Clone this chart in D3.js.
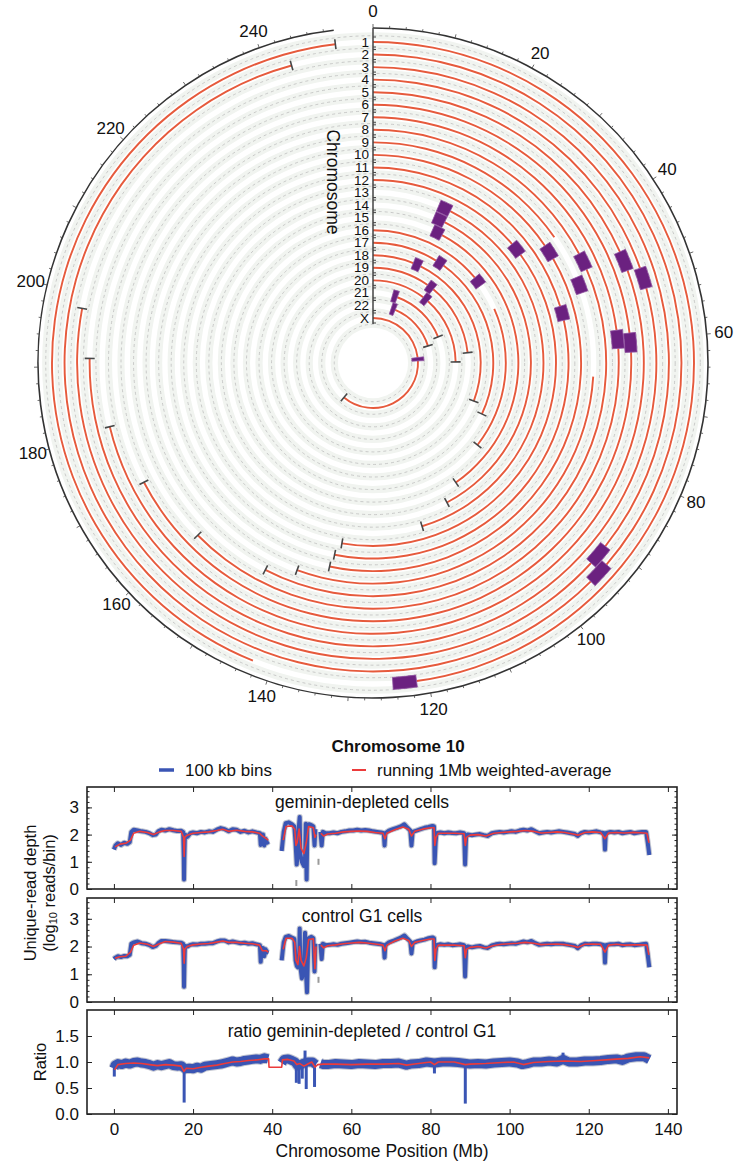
<!DOCTYPE html>
<html>
<head>
<meta charset="utf-8">
<script src="https://cdn.jsdelivr.net/npm/d3@7"></script>
<style>
body { margin: 0; background: #fff; }
svg { display: block; font-family: "Liberation Sans", Arial, sans-serif; }
</style>
</head>
<body>
<svg id="chart" width="736" height="1161"></svg>
<script>
// ---------- circular plot data (Mb) ----------
const chromNames = ["1","2","3","4","5","6","7","8","9","10","11","12","13","14","15","16","17","18","19","20","21","22","X"];
const chromLengths = [249.25, 243.2, 198.0, 191.15, 180.9, 171.1, 159.1, 146.4, 141.2, 135.5, 135.0, 133.9, 115.2, 107.3, 102.5, 90.4, 81.2, 78.1, 59.1, 63.0, 48.1, 51.3, 155.3];
const centromeres = [[121.5,124.5],[92.3,95.3],[90.5,93.5],[49.7,52.7],[46.4,49.4],[58.8,61.8],[58.1,61.1],[43.8,46.8],[47.4,50.4],[39.3,42.3],[51.6,54.6],[34.9,37.9],[16.0,19.0],[16.0,19.0],[17.0,20.0],[35.3,38.3],[22.3,25.3],[15.5,18.5],[24.7,27.7],[26.4,29.4],[11.3,14.3],[13.0,16.0],[58.6,61.6]];
const coveredSegs = [
    [[0,121.5],[142.5,249.25]],
    [[0,92.3],[95.3,243.2]],
    [[0,90.5],[93.5,198.0]],
    [[0,49.7],[52.7,191.15]],
    [[0,46.4],[49.4,180.9]],
    [[0,58.8],[61.8,171.1]],
    [[0,58.1],[61.1,159.1]],
    [[0,43.8],[46.8,146.4]],
    [[0,39.0],[66.0,141.2]],
    [[0,39.3],[42.3,135.5]],
    [[0,51.6],[54.6,135.0]],
    [[0,34.9],[37.9,133.9]],
    [[19.0,115.2]],
    [[19.0,107.3]],
    [[20.0,102.5]],
    [[0,35.3],[46.5,90.4]],
    [[0,22.3],[25.3,81.2]],
    [[0,15.5],[18.5,78.1]],
    [[0,24.7],[27.7,59.1]],
    [[0,26.4],[29.4,63.0]],
    [[14.3,48.1]],
    [[16.0,51.3]],
    [[0,58.6],[61.6,155.3]]
];
const circleTicks = [0,20,40,60,80,100,120,140,160,180,200,220,240];

// ---------- chromosome 10 profiles: [position Mb, value] ----------
const xTicks = [0,20,40,60,80,100,120,140];
const depthTicks = [0,1,2,3];
const ratioTicks = [0,0.5,1.0,1.5];

const depletedBins = [[0,1.45],[0.4,1.6],[1,1.68],[1.8,1.62],[2.6,1.7],[3.4,1.66],[4,1.72],[4.4,2.1],[5,2.18],[6,2.15],[7,2.12],[8,2.1],[9,2.05],[9.8,1.98],[10.6,2.0],[11.2,2.12],[12,2.18],[13,2.15],[14,2.2],[15,2.16],[16,2.13],[17,2.14],[17.5,2.1],[17.65,1.2],[17.72,0.35],[17.8,1.1],[17.95,2.0],[18.6,1.92],[19.3,2.05],[20,2.08],[21,2.05],[22,2.1],[23,2.08],[24,2.12],[25,2.1],[26,2.18],[27,2.24],[28,2.2],[29,2.12],[30,2.2],[31,2.18],[32,2.1],[33,2.14],[34,2.08],[35,2.12],[36,2.08],[36.9,2.05],[37.1,1.62],[37.3,2.0],[37.7,2.0],[38,1.6],[38.3,1.85],[38.7,1.7],[39.1,1.75],[40.8,null],[42.4,1.4],[42.9,2.1],[43.4,2.42],[44.2,2.45],[45,2.38],[45.6,2.3],[45.9,1.7],[46.2,0.9],[46.5,1.4],[46.8,2.4],[46.95,2.65],[47.1,1.3],[47.5,1.0],[48,0.85],[48.3,1.1],[48.5,2.4],[48.7,0.35],[48.9,2.3],[49.3,2.38],[49.9,2.35],[50.4,2.3],[50.7,1.6],[50.9,2.2],[51.6,null],[52.2,2.1],[52.5,1.6],[52.8,2.1],[53.5,2.05],[54.5,2.05],[55.5,2.08],[56.5,2.05],[57.5,2.1],[58.5,2.12],[59.5,2.15],[60.5,2.15],[61.5,2.18],[62.5,2.15],[63.5,2.17],[64.5,2.15],[65.5,2.12],[66.5,2.1],[67.5,2.08],[68.2,2.05],[68.4,1.6],[68.6,2.05],[69.5,2.15],[70.5,2.2],[71.5,2.25],[72.5,2.3],[73.4,2.38],[74.2,2.25],[74.9,2.15],[75.2,1.6],[75.5,2.1],[76.5,2.15],[77.5,2.2],[78.5,2.25],[79.5,2.28],[80.5,2.32],[80.9,2.3],[81.05,0.95],[81.3,1.7],[81.5,2.05],[82.5,2.08],[83.5,2.05],[84.5,2.08],[85.5,2.06],[86.5,2.05],[87.5,2.08],[88.5,2.05],[88.75,0.9],[89,1.9],[89.4,2.0],[90.5,1.98],[91.5,2.0],[92.5,2.02],[93.5,1.98],[94.5,1.95],[95.5,2.05],[96.5,2.08],[97.5,2.1],[98.5,2.08],[99.5,2.1],[100.5,2.12],[101.5,2.1],[102.5,2.15],[103.5,2.18],[104.5,2.15],[105.5,2.2],[106.5,2.12],[107.5,2.05],[108.5,2.08],[109.5,2.1],[110.5,2.08],[111.5,2.1],[112.5,2.12],[113.5,2.1],[114.5,2.08],[115.5,2.05],[116.5,2.02],[117.2,1.95],[118,2.05],[119,2.1],[120,2.08],[121,2.1],[122,2.12],[123,2.08],[123.9,2.05],[124.1,1.45],[124.3,2.05],[125.5,2.1],[126.5,2.08],[127.5,2.1],[128.5,2.05],[129.5,2.08],[130.5,2.1],[131.5,2.05],[132.5,2.08],[133.5,2.1],[134.5,2.1],[134.9,1.7],[135.3,1.25]];
const depletedAvg = [[0.3,1.55],[1.5,1.65],[3,1.68],[4.2,1.8],[5,2.05],[6.5,2.12],[8.5,2.08],[10,2.0],[11.5,2.1],[13,2.15],[15,2.15],[17,2.12],[17.6,1.9],[17.75,1.2],[17.9,1.9],[18.5,1.98],[20,2.05],[22,2.08],[24,2.1],[26,2.15],[27.5,2.2],[29,2.12],[31,2.16],[33,2.12],[35,2.1],[36.8,2.05],[37.5,1.95],[38.5,1.85],[39,1.8],[40.8,null],[42.8,1.8],[43.5,2.3],[45,2.32],[45.7,2.2],[46,1.6],[46.3,1.7],[46.8,2.2],[47.3,1.5],[48,1.3],[48.6,1.7],[49.2,2.3],[50.4,2.25],[50.8,1.9],[51.1,2.0],[51.6,null],[52.3,2.05],[53,1.95],[54,2.02],[56,2.05],[58,2.1],[60,2.12],[62,2.13],[64,2.12],[66,2.08],[68,2.05],[68.5,1.85],[69,2.05],[71,2.18],[73,2.28],[74.5,2.2],[75.2,1.95],[76,2.12],[78,2.2],[80,2.25],[80.9,2.25],[81.1,1.6],[81.4,1.9],[82,2.05],[84,2.05],[86,2.05],[88.5,2.03],[88.8,1.6],[89.1,1.9],[90,1.98],[92,2.0],[94,1.95],[96,2.05],[98,2.08],[100,2.1],[102,2.12],[104,2.15],[106,2.12],[108,2.06],[110,2.08],[112,2.1],[114,2.08],[116,2.02],[117.3,1.98],[119,2.08],[121,2.1],[123,2.08],[124.1,1.85],[125,2.06],[127,2.08],[129,2.06],[131,2.08],[133,2.07],[134.7,2.05],[135.2,1.7]];
const depletedStray = [[46.1,0.22],[51.7,1.0]];

const controlBins = [[0,1.55],[0.4,1.6],[1,1.65],[1.8,1.62],[2.6,1.66],[3.4,1.65],[4,1.7],[4.4,2.1],[5,2.15],[6,2.18],[7,2.12],[8,2.1],[9,2.05],[9.8,1.98],[10.6,2.02],[11.2,2.12],[12,2.2],[13,2.2],[14,2.18],[15,2.16],[16,2.15],[17,2.14],[17.5,2.1],[17.65,1.3],[17.72,0.55],[17.8,1.2],[17.95,2.02],[18.6,2.0],[19.3,2.06],[20,2.08],[21,2.07],[22,2.1],[23,2.1],[24,2.12],[25,2.12],[26,2.18],[27,2.22],[28,2.22],[29,2.15],[30,2.18],[31,2.15],[32,2.12],[33,2.14],[34,2.1],[35,2.12],[36,2.08],[36.9,2.05],[37.1,1.45],[37.3,1.95],[37.7,1.95],[38,1.65],[38.3,1.9],[38.7,1.8],[39.1,1.78],[40.8,null],[42.4,1.5],[42.9,2.15],[43.4,2.35],[44.2,2.38],[45,2.32],[45.6,2.28],[45.9,1.5],[46.2,1.3],[46.5,1.25],[46.8,1.35],[46.95,2.65],[47.1,1.3],[47.5,0.85],[48,1.2],[48.3,2.5],[48.6,0.9],[48.8,0.35],[49,1.5],[49.2,2.3],[49.9,2.35],[50.4,2.3],[50.7,1.1],[50.9,2.1],[51.6,null],[52.2,2.1],[52.5,1.55],[52.8,2.1],[53.5,2.05],[54.5,2.06],[55.5,2.08],[56.5,2.06],[57.5,2.1],[58.5,2.12],[59.5,2.14],[60.5,2.16],[61.5,2.18],[62.5,2.16],[63.5,2.17],[64.5,2.14],[65.5,2.12],[66.5,2.1],[67.5,2.08],[68.2,2.05],[68.4,1.6],[68.6,2.05],[69.5,2.15],[70.5,2.2],[71.5,2.26],[72.5,2.32],[73.4,2.4],[74.2,2.28],[74.9,2.18],[75.2,1.75],[75.5,2.12],[76.5,2.18],[77.5,2.22],[78.5,2.25],[79.5,2.3],[80.5,2.33],[80.9,2.3],[81.05,1.25],[81.3,1.8],[81.5,2.05],[82.5,2.08],[83.5,2.06],[84.5,2.08],[85.5,2.05],[86.5,2.06],[87.5,2.08],[88.5,2.05],[88.75,0.92],[89,1.9],[89.4,2.0],[90.5,1.97],[91.5,2.0],[92.5,2.02],[93.5,1.97],[94.5,1.95],[95.5,2.04],[96.5,2.08],[97.5,2.1],[98.5,2.08],[99.5,2.1],[100.5,2.12],[101.5,2.1],[102.5,2.14],[103.5,2.18],[104.5,2.15],[105.5,2.2],[106.5,2.12],[107.5,2.06],[108.5,2.08],[109.5,2.1],[110.5,2.08],[111.5,2.1],[112.5,2.1],[113.5,2.1],[114.5,2.07],[115.5,2.05],[116.5,2.02],[117.2,1.94],[118,2.04],[119,2.1],[120,2.08],[121,2.1],[122,2.1],[123,2.08],[123.9,2.05],[124.1,1.42],[124.3,2.05],[125.5,2.08],[126.5,2.08],[127.5,2.1],[128.5,2.05],[129.5,2.07],[130.5,2.08],[131.5,2.05],[132.5,2.06],[133.5,2.08],[134.5,2.1],[134.9,1.7],[135.3,1.25]];
const controlAvg = [[0.3,1.58],[1.5,1.63],[3,1.65],[4.2,1.8],[5,2.05],[6.5,2.13],[8.5,2.08],[10,2.0],[11.5,2.1],[13,2.18],[15,2.16],[17,2.12],[17.6,1.9],[17.75,1.4],[17.9,1.9],[18.5,2.0],[20,2.06],[22,2.09],[24,2.11],[26,2.16],[27.5,2.2],[29,2.15],[31,2.15],[33,2.12],[35,2.1],[36.8,2.05],[37.5,1.85],[38.5,1.85],[39,1.8],[40.8,null],[42.8,1.9],[43.5,2.3],[45,2.3],[45.7,2.15],[46,1.5],[46.5,1.35],[46.9,2.0],[47.3,1.5],[48,1.3],[48.6,1.6],[49.2,2.25],[50.4,2.28],[50.8,1.2],[51.1,2.0],[51.6,null],[52.3,2.05],[53,1.95],[54,2.03],[56,2.06],[58,2.1],[60,2.13],[62,2.15],[64,2.13],[66,2.09],[68,2.05],[68.5,1.85],[69,2.05],[71,2.2],[73,2.3],[74.5,2.22],[75.2,2.0],[76,2.15],[78,2.22],[80,2.27],[80.9,2.27],[81.1,1.5],[81.4,1.9],[82,2.05],[84,2.05],[86,2.05],[88.5,2.03],[88.8,1.6],[89.1,1.9],[90,1.97],[92,2.0],[94,1.95],[96,2.04],[98,2.08],[100,2.1],[102,2.12],[104,2.15],[106,2.12],[108,2.07],[110,2.08],[112,2.09],[114,2.07],[116,2.02],[117.3,1.97],[119,2.08],[121,2.09],[123,2.08],[124.1,1.8],[125,2.05],[127,2.08],[129,2.05],[131,2.06],[133,2.06],[134.7,2.05],[135.2,1.7]];
const controlStray = [[51.7,0.8]];

const ratioBins = [[0,0.88],[0.3,0.94],[1,0.97],[2,0.95],[3,0.98],[4,0.96],[5,0.99],[6,1.0],[7,0.98],[8,0.97],[9,0.95],[10,0.92],[11,0.95],[12,0.93],[13,0.95],[14,0.97],[15,0.93],[16,0.92],[17,0.93],[18,0.87],[19,0.88],[20,0.87],[21,0.9],[22,0.88],[23,0.92],[24,0.93],[25,0.94],[26,0.95],[27,0.96],[28,0.98],[29,1.0],[30,1.02],[31,1.0],[32,1.01],[33,1.03],[34,1.04],[35,1.05],[36,1.06],[37,1.05],[38,1.08],[39,1.06],[40.8,null],[42.4,0.98],[43,1.05],[44,1.06],[45,1.03],[45.8,1.0],[46.4,0.93],[47.2,0.95],[48,0.98],[49,1.0],[50.2,1.0],[51,0.95],[51.6,null],[52.2,0.97],[53,0.95],[54,0.95],[56,0.97],[58,0.96],[60,0.95],[62,0.97],[64,0.96],[66,0.95],[68,0.97],[70,0.97],[72,0.98],[73.9,0.94],[75,0.96],[77,0.97],[79,1.0],[81,0.98],[83,1.0],[85,1.0],[87,0.99],[89,0.97],[90,0.96],[92,0.97],[94,0.96],[96,0.98],[98,0.99],[100,1.0],[102,0.98],[103.2,0.95],[104.5,0.97],[106,1.0],[108,1.0],[110,1.02],[112,1.0],[113.5,1.05],[115,1.0],[117,1.0],[119,1.02],[121,1.02],[123,1.03],[125,1.05],[127,1.06],[128.5,1.03],[130,1.08],[132,1.1],[134,1.1],[135.3,1.05]];
const ratioSpikes = [[0.1,0.72,0.95],[17.75,0.22,0.95],[46.1,0.6,1.0],[46.8,0.58,1.0],[47.6,0.68,1.0],[48.3,1.0,1.22],[48.6,0.48,1.0],[50.7,0.52,1.0],[73.9,0.86,1.0],[81.0,0.78,1.0],[88.8,0.2,1.0],[103.2,0.87,1.0],[113.5,1.0,1.18]];
const ratioAvg = [[0.2,0.85],[1,0.95],[3,0.97],[5,0.98],[7,0.97],[9,0.95],[11,0.93],[13,0.95],[15,0.94],[17,0.92],[17.7,0.82],[18.3,0.88],[20,0.87],[22,0.9],[24,0.92],[26,0.94],[28,0.97],[30,1.0],[32,1.01],[34,1.03],[36,1.04],[38,1.06],[39.1,1.06],[39.2,0.9],[42.4,0.9],[42.6,1.04],[44,1.05],[45.5,1.02],[46.2,0.95],[47,0.97],[48,0.92],[49,0.96],[50,1.0],[50.8,0.9],[51.5,0.95],[53,0.96],[56,0.96],[60,0.95],[64,0.96],[68,0.96],[72,0.97],[74,0.94],[76,0.96],[80,1.0],[81,0.95],[82,1.0],[86,1.0],[88.8,0.95],[90,0.96],[94,0.97],[98,0.99],[101,1.0],[103.5,0.95],[106,0.99],[110,1.01],[114,1.02],[118,1.01],[122,1.03],[126,1.05],[130,1.07],[133,1.1],[135.3,1.08]];

function init(){
    var svg = d3.select("#chart");

    // ================= circular genome plot =================
    var cx = 373, cy = 363;
    var rOuter = 335;
    var angle = d3.scaleLinear().domain([0, 254]).range([0, 2 * Math.PI]);
    var radius = d3.scalePoint().domain(chromNames).range([321, 45]);
    var step = radius.step();

    function pt(mb, r) {
        var a = angle(mb);
        return [r * Math.sin(a), -r * Math.cos(a)];
    }

    var ring = svg.append("g").attr("transform", `translate(${cx},${cy})`);

    // pale bands + dashed separators between tracks
    var bounds = chromNames.map(c => radius(c) + step / 2);
    bounds.push(radius("X") - step / 2);

    ring.selectAll(".band")
        .data(bounds)
        .enter()
        .append("path")
        .attr("class", "band")
        .attr("d", b => d3.arc()({innerRadius: b - 3.6, outerRadius: b + 3.6, startAngle: 0, endAngle: 2 * Math.PI}))
        .attr("fill", "#f1f4f0");

    ring.selectAll(".sep")
        .data(bounds)
        .enter()
        .append("circle")
        .attr("class", "sep")
        .attr("r", b => b)
        .attr("fill", "none")
        .attr("stroke", "#b8b8b8")
        .attr("stroke-width", 0.7)
        .attr("stroke-dasharray", "3,3");

    // covered regions (red arcs)
    var segData = [];
    chromNames.forEach(function(c, i) {
        coveredSegs[i].forEach(s => segData.push({chr: c, start: s[0], end: s[1]}));
    });

    ring.selectAll(".cov")
        .data(segData)
        .enter()
        .append("path")
        .attr("class", "cov")
        .attr("d", d => d3.arc()({innerRadius: radius(d.chr) - 0.95, outerRadius: radius(d.chr) + 0.95, startAngle: angle(d.start), endAngle: angle(d.end)}))
        .attr("fill", "#e65a3c");

    // centromere blocks
    ring.selectAll(".cen")
        .data(chromNames)
        .enter()
        .append("path")
        .attr("class", "cen")
        .attr("d", (c, i) => d3.arc()({innerRadius: radius(c) - 6, outerRadius: radius(c) + 6, startAngle: angle(centromeres[i][0]), endAngle: angle(centromeres[i][1])}))
        .attr("fill", "#6b2180")
        .attr("stroke", "#8e4f9f")
        .attr("stroke-width", 0.8);

    // chromosome end marks
    ring.selectAll(".end")
        .data(chromNames)
        .enter()
        .append("line")
        .attr("class", "end")
        .attr("x1", (c, i) => pt(chromLengths[i], radius(c) - 5)[0])
        .attr("y1", (c, i) => pt(chromLengths[i], radius(c) - 5)[1])
        .attr("x2", (c, i) => pt(chromLengths[i], radius(c) + 5)[0])
        .attr("y2", (c, i) => pt(chromLengths[i], radius(c) + 5)[1])
        .attr("stroke", "#474747")
        .attr("stroke-width", 1.6);

    // outer scale circle
    var outer = d3.path();
    outer.arc(0, 0, rOuter, angle(0) - Math.PI / 2, angle(249.25) - Math.PI / 2);
    ring.append("path")
        .attr("d", outer.toString())
        .attr("fill", "none")
        .attr("stroke", "#333")
        .attr("stroke-width", 1.6);

    ring.selectAll(".otick")
        .data(d3.range(0, 250, 2))
        .enter()
        .append("line")
        .attr("x1", d => pt(d, rOuter)[0])
        .attr("y1", d => pt(d, rOuter)[1])
        .attr("x2", d => pt(d, rOuter + (d % 10 === 0 ? 4 : 2.5))[0])
        .attr("y2", d => pt(d, rOuter + (d % 10 === 0 ? 4 : 2.5))[1])
        .attr("stroke", "#444")
        .attr("stroke-width", 0.8);

    ring.selectAll(".olabel")
        .data(circleTicks)
        .enter()
        .append("text")
        .attr("x", d => pt(d, 352)[0])
        .attr("y", d => pt(d, 352)[1])
        .attr("text-anchor", "middle")
        .attr("dominant-baseline", "central")
        .style("font-size", "17px")
        .attr("fill", "#111")
        .text(d => d);

    // chromosome axis at 0 Mb
    ring.append("line")
        .attr("x1", 0).attr("y1", -rOuter)
        .attr("x2", 0).attr("y2", -(radius("X") - 6))
        .attr("stroke", "#444")
        .attr("stroke-width", 1.5);

    chromNames.forEach(function(c) {
        [-5, 5].forEach(function(o) {
            ring.append("line")
                .attr("x1", 0).attr("x2", 3)
                .attr("y1", -radius(c) + o).attr("y2", -radius(c) + o)
                .attr("stroke", "#444")
                .attr("stroke-width", 1);
        });
    });

    ring.selectAll(".clabel")
        .data(chromNames)
        .enter()
        .append("text")
        .attr("x", -4)
        .attr("y", c => -radius(c))
        .attr("text-anchor", "end")
        .attr("dominant-baseline", "central")
        .style("font-size", "13.5px")
        .attr("fill", "#111")
        .text(c => c);

    ring.append("text")
        .attr("transform", "translate(-40,-181) rotate(90)")
        .attr("text-anchor", "middle")
        .attr("dominant-baseline", "central")
        .style("font-size", "17.5px")
        .attr("fill", "#111")
        .text("Chromosome");

    // ================= chromosome 10 panels =================
    var x = d3.scaleLinear().domain([-6.8, 142.3]).range([87, 677]);

    var panels = [
        {top: 787, bottom: 889, domain: [0, 3.75], ticks: depthTicks, minor: d3.range(0, 3.75, 0.2), fmt: d3.format("d"),
         bins: depletedBins, avg: depletedAvg, stray: depletedStray, spikes: [], bw: 4, label: "geminin-depleted cells", labelY: 808},
        {top: 898, bottom: 1002, domain: [0, 3.75], ticks: depthTicks, minor: d3.range(0, 3.75, 0.2), fmt: d3.format("d"),
         bins: controlBins, avg: controlAvg, stray: controlStray, spikes: [], bw: 4, label: "control G1 cells", labelY: 922},
        {top: 1010, bottom: 1114, domain: [0, 2.0], ticks: ratioTicks, minor: [], fmt: d3.format(".1f"),
         bins: ratioBins, avg: ratioAvg, stray: [], spikes: ratioSpikes, bw: 9, label: "ratio geminin-depleted / control G1", labelY: 1037}
    ];

    panels.forEach(function(p, i) {
        var y = d3.scaleLinear().domain(p.domain).range([p.bottom, p.top]);
        var g = svg.append("g");
        var clipId = "clip" + i;

        g.append("clipPath").attr("id", clipId)
            .append("rect")
            .attr("x", x.range()[0]).attr("y", p.top)
            .attr("width", x.range()[1] - x.range()[0]).attr("height", p.bottom - p.top);

        var line = d3.line()
            .defined(d => d[1] !== null)
            .x(d => x(d[0]))
            .y(d => y(d[1]));

        var plot = g.append("g").attr("clip-path", `url(#${clipId})`);

        // 100 kb bins, grey halo then blue
        plot.append("path")
            .datum(p.bins)
            .attr("d", line)
            .attr("fill", "none")
            .attr("stroke", "#8f95aa")
            .attr("stroke-width", p.bw + 2)
            .attr("stroke-linejoin", "round")
            .attr("opacity", 0.55);

        plot.selectAll(".spike")
            .data(p.spikes)
            .enter()
            .append("line")
            .attr("x1", d => x(d[0])).attr("x2", d => x(d[0]))
            .attr("y1", d => y(d[1])).attr("y2", d => y(d[2]))
            .attr("stroke", "#3a55b4")
            .attr("stroke-width", 3);

        plot.append("path")
            .datum(p.bins)
            .attr("d", line)
            .attr("fill", "none")
            .attr("stroke", "#3a55b4")
            .attr("stroke-width", p.bw)
            .attr("stroke-linejoin", "round");

        plot.selectAll(".stray")
            .data(p.stray)
            .enter()
            .append("rect")
            .attr("x", d => x(d[0]) - 1)
            .attr("y", d => y(d[1]) - 3)
            .attr("width", 2)
            .attr("height", 6)
            .attr("fill", "#9a9a9a");

        // running 1Mb weighted average
        plot.append("path")
            .datum(p.avg)
            .attr("d", line)
            .attr("fill", "none")
            .attr("stroke", "#ec3b3b")
            .attr("stroke-width", 1.6)
            .attr("stroke-linejoin", "round");

        // axes with inward ticks
        var last = i === panels.length - 1;
        g.append("g")
            .attr("transform", `translate(0,${p.bottom})`)
            .call(d3.axisBottom(x).tickValues(xTicks).tickSize(-5).tickPadding(9)
                .tickFormat(last ? d3.format("d") : ""));
        g.append("g")
            .attr("transform", `translate(0,${p.top})`)
            .call(d3.axisTop(x).tickValues(xTicks).tickSize(-5).tickFormat(""));
        g.append("g")
            .attr("transform", `translate(${x.range()[0]},0)`)
            .call(d3.axisLeft(y).tickValues(p.ticks).tickSize(-5).tickPadding(8).tickFormat(p.fmt));
        g.append("g")
            .attr("transform", `translate(${x.range()[1]},0)`)
            .call(d3.axisRight(y).tickValues(p.ticks).tickSize(-5).tickFormat(""));
        if (p.minor.length) {
            g.append("g")
                .attr("transform", `translate(${x.range()[0]},0)`)
                .call(d3.axisLeft(y).tickValues(p.minor).tickSize(-2.5).tickFormat(""));
            g.append("g")
                .attr("transform", `translate(${x.range()[1]},0)`)
                .call(d3.axisRight(y).tickValues(p.minor).tickSize(-2.5).tickFormat(""));
        }
        g.selectAll(".domain").remove();
        g.selectAll(".tick line").attr("stroke", "#222").attr("stroke-width", 1);
        g.selectAll(".tick text")
            .attr("fill", "#111")
            .style("font-family", "'Liberation Sans', Arial, sans-serif")
            .style("font-size", "17px");

        g.append("rect")
            .attr("x", x.range()[0]).attr("y", p.top)
            .attr("width", x.range()[1] - x.range()[0]).attr("height", p.bottom - p.top)
            .attr("fill", "none")
            .attr("stroke", "#222")
            .attr("stroke-width", 1.6);

        g.append("text")
            .attr("x", 362)
            .attr("y", p.labelY)
            .attr("text-anchor", "middle")
            .style("font-size", "17.5px")
            .attr("fill", "#111")
            .text(p.label);
    });

    // title and legend
    svg.append("text")
        .attr("x", 398).attr("y", 752)
        .attr("text-anchor", "middle")
        .style("font-size", "17px")
        .style("font-weight", "bold")
        .attr("fill", "#111")
        .text("Chromosome 10");

    svg.append("line")
        .attr("x1", 159).attr("x2", 174).attr("y1", 770).attr("y2", 770)
        .attr("stroke", "#3a55b4").attr("stroke-width", 3.5);
    svg.append("text")
        .attr("x", 185).attr("y", 776)
        .style("font-size", "17px").attr("fill", "#111")
        .text("100 kb bins");
    svg.append("line")
        .attr("x1", 352).attr("x2", 366).attr("y1", 770).attr("y2", 770)
        .attr("stroke", "#ec3b3b").attr("stroke-width", 2);
    svg.append("text")
        .attr("x", 377).attr("y", 776)
        .style("font-size", "17px").attr("fill", "#111")
        .text("running 1Mb weighted-average");

    // axis titles
    svg.append("text")
        .attr("x", 382).attr("y", 1157)
        .attr("text-anchor", "middle")
        .style("font-size", "17.5px").attr("fill", "#111")
        .text("Chromosome Position (Mb)");

    svg.append("text")
        .attr("transform", "translate(30,893) rotate(-90)")
        .attr("text-anchor", "middle")
        .attr("dominant-baseline", "central")
        .style("font-size", "16.5px").attr("fill", "#111")
        .text("Unique-read depth");

    var sub = svg.append("text")
        .attr("transform", "translate(49,893) rotate(-90)")
        .attr("text-anchor", "middle")
        .attr("dominant-baseline", "central")
        .style("font-size", "16.5px").attr("fill", "#111");
    sub.append("tspan").text("(log");
    sub.append("tspan").attr("dy", 4).style("font-size", "11px").text("10");
    sub.append("tspan").attr("dy", -4).text(" reads/bin)");

    svg.append("text")
        .attr("transform", "translate(40,1062) rotate(-90)")
        .attr("text-anchor", "middle")
        .attr("dominant-baseline", "central")
        .style("font-size", "16.5px").attr("fill", "#111")
        .text("Ratio");
}

window.onload = init;
</script>
</body>
</html>
